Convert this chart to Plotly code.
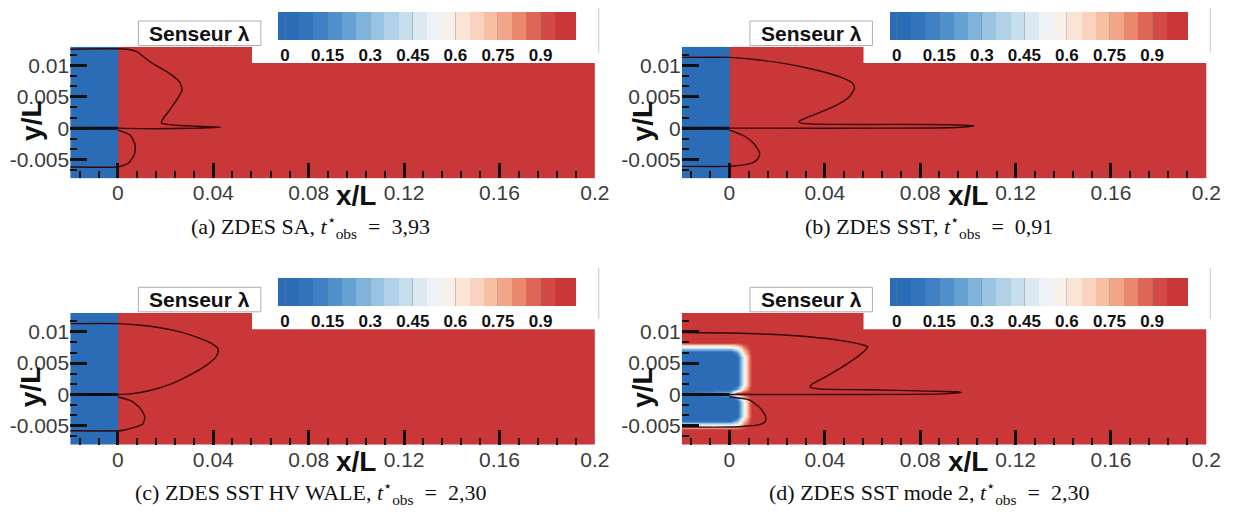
import plotly.graph_objects as go

W, H = 1242, 515

# ---------------- data ----------------
# colour of each lambda level (levels of 0.05 from 0 to 1)
LAMBDA_LEVEL_COLORS = [
    "rgb(42,108,182)", "rgb(50,116,188)", "rgb(62,128,195)", "rgb(80,145,203)",
    "rgb(102,161,211)", "rgb(127,179,219)", "rgb(152,196,226)", "rgb(176,209,231)",
    "rgb(199,222,237)", "rgb(221,233,242)", "rgb(238,241,245)", "rgb(248,240,234)",
    "rgb(250,228,214)", "rgb(250,211,190)", "rgb(247,190,162)", "rgb(242,165,136)",
    "rgb(233,136,109)", "rgb(222,102,86)", "rgb(211,73,69)", "rgb(202,55,57)",
]
LEVEL_STEP = 0.05
CBAR_MIN, CBAR_MAX = -0.025, 1.025
CB_TICKS = [0, 0.15, 0.3, 0.45, 0.6, 0.75, 0.9]
CB_TICKTEXT = ["0", "0.15", "0.3", "0.45", "0.6", "0.75", "0.9"]

X_RANGE = [-0.02, 0.2]
Y_RANGE = [-0.008, 0.013]
X_TICKS = [0, 0.04, 0.08, 0.12, 0.16, 0.2]
X_TICKTEXT = ["0", "0.04", "0.08", "0.12", "0.16", "0.2"]
Y_TICKS = [-0.005, 0, 0.005, 0.01]
Y_TICKTEXT = ["-0.005", "0", "0.005", "0.01"]

# sensor field for (a), (b), (c): lambda = 0 upstream of x=0, 1 downstream
STEP_X_EDGES = [-0.02, 0.0, 0.2]
STEP_Y_EDGES = [-0.008, 0.013]
STEP_LAMBDA = [[0.0, 1.0]]

# sensor field for (d)
D_FIELD_X = [-0.021, 0.0, 0.003, 0.006, 0.0095, 0.2]
D_FIELD_Y = [-0.0085, -0.0056, -0.0041, -0.0034, -0.0012, -0.0005, 0.0002, 0.0009,
             0.0016, 0.0060, 0.0068, 0.0084, 0.0135]
D_FIELD_LAMBDA = [
    [1, 1, 1, 1, 1, 1],
    [1, 1, 1, 1, 1, 1],
    [0, 0, 0.2, 0.7, 1, 1],
    [0, 0, 0, 0.5, 1, 1],
    [0, 0, 0, 0.5, 1, 1],
    [0, 0, 0.2, 0.7, 1, 1],
    [0, 0.3, 0.9, 1, 1, 1],
    [0, 0, 0.2, 0.7, 1, 1],
    [0, 0, 0, 0.5, 1, 1],
    [0, 0, 0, 0.5, 1, 1],
    [0, 0, 0.2, 0.7, 1, 1],
    [1, 1, 1, 1, 1, 1],
    [1, 1, 1, 1, 1, 1],
]

# splitter plate
PLATE_X = [-0.02, 0.0]
PLATE_Y = [0.0, 0.0]

# iso-lines (upper and lower) for each case
A_UP_X = [-0.02, 0.004, 0.0079, 0.0134, 0.0217, 0.0258, 0.0269, 0.0251, 0.0217, 0.0186,
          0.0182, 0.0231, 0.033, 0.0431, 0.033, 0.015, 0.0]
A_UP_Y = [0.0126, 0.0126, 0.0122, 0.0106, 0.0087, 0.0074, 0.0061, 0.0048, 0.0029, 0.0013,
          0.0008, 0.0005, 0.0003, 0.00015, 0.0, -0.0001, 0.0]
A_LO_X = [0.0, 0.0051, 0.0072, 0.0069, 0.0044, 0.001, 0.0, -0.02]
A_LO_Y = [-0.0003, -0.0011, -0.0027, -0.0042, -0.0056, -0.0061, -0.0062, -0.0062]

B_UP_X = [-0.02, 0.0, 0.0096, 0.0234, 0.0372, 0.0469, 0.0517, 0.0524, 0.0503, 0.0448, 0.0372,
          0.031, 0.029, 0.031, 0.0441, 0.07, 0.0925, 0.1025, 0.095, 0.06, 0.02, 0.0]
B_UP_Y = [0.0113, 0.0113, 0.0110, 0.0103, 0.0092, 0.0081, 0.00715, 0.00634, 0.0050, 0.00363,
          0.00239, 0.00146, 0.00103, 0.00076, 0.0006, 0.0006, 0.00055, 0.0004, 0.0001, 0.0, 0.0, 0.0]
B_LO_X = [0.0, 0.0062, 0.0103, 0.0127, 0.0117, 0.0083, 0.0028, 0.0, -0.02]
B_LO_Y = [-0.0003, -0.00125, -0.0025, -0.004, -0.005, -0.0057, -0.006, -0.0061, -0.0061]

C_UP_X = [-0.02, 0.0, 0.0106, 0.0231, 0.0327, 0.0394, 0.0421, 0.0413, 0.0376, 0.0307,
          0.0224, 0.0134, 0.0051, 0.0]
C_UP_Y = [0.0113, 0.0113, 0.0110, 0.01026, 0.0092, 0.0081, 0.0072, 0.0061, 0.0048, 0.0032,
          0.0017, 0.00064, 0.0001, 0.0]
C_LO_X = [0.0, 0.0058, 0.0095, 0.0113, 0.0104, 0.0065, 0.0024, 0.0, -0.02]
C_LO_Y = [-0.0004, -0.00106, -0.0023, -0.0036, -0.0047, -0.0053, -0.0057, -0.0058, -0.0058]

D_UP_X = [-0.02, 0.0, 0.0166, 0.0331, 0.0469, 0.0552, 0.058, 0.0559, 0.049, 0.0407, 0.0345,
          0.0338, 0.0373, 0.058, 0.0829, 0.0953, 0.0973, 0.09, 0.05, 0.0]
D_UP_Y = [0.0099, 0.0098, 0.0096, 0.0092, 0.0086, 0.0080, 0.0076, 0.0067, 0.0048, 0.0029, 0.0016,
          0.0012, 0.0009, 0.00075, 0.00054, 0.00043, 0.0003, 0.0001, 0.0, 0.0]
D_LO_X = [0.0, 0.0083, 0.0127, 0.0152, 0.0149, 0.0117, 0.0055, 0.0, -0.02]
D_LO_Y = [-0.0004, -0.00085, -0.0021, -0.0035, -0.0044, -0.0049, -0.0051, -0.0052, -0.0052]

CAPTIONS = [
    "(a) ZDES SA, <i>t</i><sup>⋆</sup><sub>obs</sub>\u2002=\u20023,93",
    "(b) ZDES SST, <i>t</i><sup>⋆</sup><sub>obs</sub>\u2002=\u20020,91",
    "(c) ZDES SST HV WALE, <i>t</i><sup>⋆</sup><sub>obs</sub>\u2002=\u20022,30",
    "(d) ZDES SST mode 2, <i>t</i><sup>⋆</sup><sub>obs</sub>\u2002=\u20022,30",
]
LEGEND_TITLE = "Senseur λ"
X_TITLE = "x/L"
Y_TITLE = "y/L"

# ---------------- layout geometry (pixels) ----------------
PANEL_LEFT = [63, 682, 63, 682]
PANEL_TOP = [38.7, 38.7, 305.0, 305.0]
PANEL_W = 531
PANEL_H = 131.6
CAPTION_X = [306, 932, 306, 932]
CAPTION_Y = [218, 218, 484, 484]

SANS = "Liberation Sans, Arial, sans-serif"
SERIF = "Liberation Serif, Times New Roman, serif"
LINE_COLOR = "#330808"


def fx(p):
    return p / W


def fy(p):
    return 1 - p / H


# discrete colour scale
def norm(v):
    return (v - CBAR_MIN) / (CBAR_MAX - CBAR_MIN)


colorscale = []
n = len(LAMBDA_LEVEL_COLORS)
for i, c in enumerate(LAMBDA_LEVEL_COLORS):
    a = 0.0 if i == 0 else norm(i * LEVEL_STEP)
    b = 1.0 if i == n - 1 else norm((i + 1) * LEVEL_STEP)
    colorscale.append([a, c])
    colorscale.append([b, c])

fig = go.Figure()

curves = [
    (A_UP_X, A_UP_Y, A_LO_X, A_LO_Y),
    (B_UP_X, B_UP_Y, B_LO_X, B_LO_Y),
    (C_UP_X, C_UP_Y, C_LO_X, C_LO_Y),
    (D_UP_X, D_UP_Y, D_LO_X, D_LO_Y),
]

shapes = []
annotations = []

for k in range(4):
    sfx = "" if k == 0 else str(k + 1)
    xa, ya = "x" + sfx, "y" + sfx
    L, T = PANEL_LEFT[k], PANEL_TOP[k]

    cbar = dict(
        orientation="h", thickness=27.5, thicknessmode="pixels",
        len=298, lenmode="pixels",
        x=fx(L + 210.3), xanchor="left", y=fy(T - 34.7), yanchor="top",
        xpad=0, ypad=0, outlinewidth=0,
        tickmode="array", tickvals=CB_TICKS, ticktext=CB_TICKTEXT,
        ticks="inside", ticklen=27.5, tickwidth=1, tickcolor="rgba(120,120,120,0.35)",
        tickfont=dict(family=SANS, size=17, color="#111", weight="bold"),
    )
    if k < 3:
        fig.add_trace(go.Heatmap(
            x=STEP_X_EDGES, y=STEP_Y_EDGES, z=STEP_LAMBDA,
            zmin=CBAR_MIN, zmax=CBAR_MAX, colorscale=colorscale,
            colorbar=cbar, xaxis=xa, yaxis=ya, hoverinfo="skip",
        ))
    else:
        fig.add_trace(go.Heatmap(
            x=D_FIELD_X, y=D_FIELD_Y, z=D_FIELD_LAMBDA, zsmooth="best",
            zmin=CBAR_MIN, zmax=CBAR_MAX, colorscale=colorscale,
            colorbar=cbar, xaxis=xa, yaxis=ya, hoverinfo="skip",
        ))

    ux, uy, lx, ly = curves[k]
    for cx, cy in ((ux, uy), (lx, ly)):
        fig.add_trace(go.Scatter(
            x=cx, y=cy, mode="lines", xaxis=xa, yaxis=ya,
            line=dict(color=LINE_COLOR, width=1.4, shape="spline", smoothing=0.6),
            showlegend=False, hoverinfo="skip",
        ))
    fig.add_trace(go.Scatter(
        x=PLATE_X, y=PLATE_Y, mode="lines", xaxis=xa, yaxis=ya,
        line=dict(color="#0a0a14", width=3), showlegend=False, hoverinfo="skip",
    ))

    axkey = "xaxis" + sfx
    aykey = "yaxis" + sfx
    fig.layout[axkey] = dict(
        domain=[fx(L), fx(L + PANEL_W)], range=X_RANGE, anchor=ya,
        showgrid=False, zeroline=False, showline=False,
        tickmode="array", tickvals=X_TICKS, ticktext=X_TICKTEXT,
        ticks="inside", ticklen=15, tickwidth=2.5, tickcolor="#111",
        tickfont=dict(family=SANS, size=21, color="#3c3c3c"),
        minor=dict(ticks="inside", ticklen=7, tickwidth=1.8, tickcolor="#111",
                   tickmode="linear", tick0=0, dtick=0.008),
    )
    fig.layout[aykey] = dict(
        domain=[fy(T + PANEL_H), fy(T)], range=Y_RANGE, anchor=xa,
        showgrid=False, zeroline=False, showline=False,
        tickmode="array", tickvals=Y_TICKS, ticktext=Y_TICKTEXT,
        ticks="inside", ticklen=17, tickwidth=2.5, tickcolor="#111",
        tickfont=dict(family=SANS, size=21, color="#3c3c3c"),
        minor=dict(ticks="inside", ticklen=7, tickwidth=1.8, tickcolor="#111",
                   tickmode="linear", tick0=0, dtick=0.005 / 3),
    )

    # legend frame (white) covering the upper right of the plot
    shapes.append(dict(type="rect", xref="paper", yref="paper", layer="above",
                       x0=fx(L + 184), x1=fx(L + 535), y0=fy(T + 16.3), y1=fy(T - 45),
                       fillcolor="white", line=dict(width=0)))
    shapes.append(dict(type="line", xref="paper", yref="paper", layer="above",
                       x0=fx(L + 535), x1=fx(L + 535), y0=fy(T + 6), y1=fy(T - 45),
                       line=dict(color="#c8c8c8", width=1)))
    # "Senseur" label box
    shapes.append(dict(type="rect", xref="paper", yref="paper", layer="above",
                       x0=fx(L + 69), x1=fx(L + 193), y0=fy(T - 1.2), y1=fy(T - 25.7),
                       fillcolor="white", line=dict(color="#b0b0b0", width=1)))
    annotations.append(dict(xref="paper", yref="paper", x=fx(L + 131), y=fy(T - 13.5),
                            text=LEGEND_TITLE, showarrow=False, xanchor="center", yanchor="middle",
                            font=dict(family=SANS, size=21, color="#111", weight="bold")))
    # axis titles
    annotations.append(dict(xref=xa, yref="paper", x=0.1, y=fy(T + 148.5),
                            text=X_TITLE, showarrow=False, xanchor="center", yanchor="middle",
                            font=dict(family=SANS, size=28, color="#111", weight="bold")))
    annotations.append(dict(xref="paper", yref="paper", x=fx(L - 40), y=fy(T + 74.5),
                            text=Y_TITLE, showarrow=False, xanchor="center", yanchor="middle",
                            textangle=-90,
                            font=dict(family=SANS, size=28, color="#111", weight="bold")))
    # caption
    annotations.append(dict(xref="paper", yref="paper", x=fx(CAPTION_X[k]), y=fy(CAPTION_Y[k]),
                            text=CAPTIONS[k], showarrow=False, xanchor="center", yanchor="middle",
                            font=dict(family=SERIF, size=22, color="#111")))

fig.update_layout(
    width=W, height=H, margin=dict(l=0, r=0, t=0, b=0),
    paper_bgcolor="white", plot_bgcolor="white",
    showlegend=False, shapes=shapes, annotations=annotations,
)

fig.write_html("out.html")
